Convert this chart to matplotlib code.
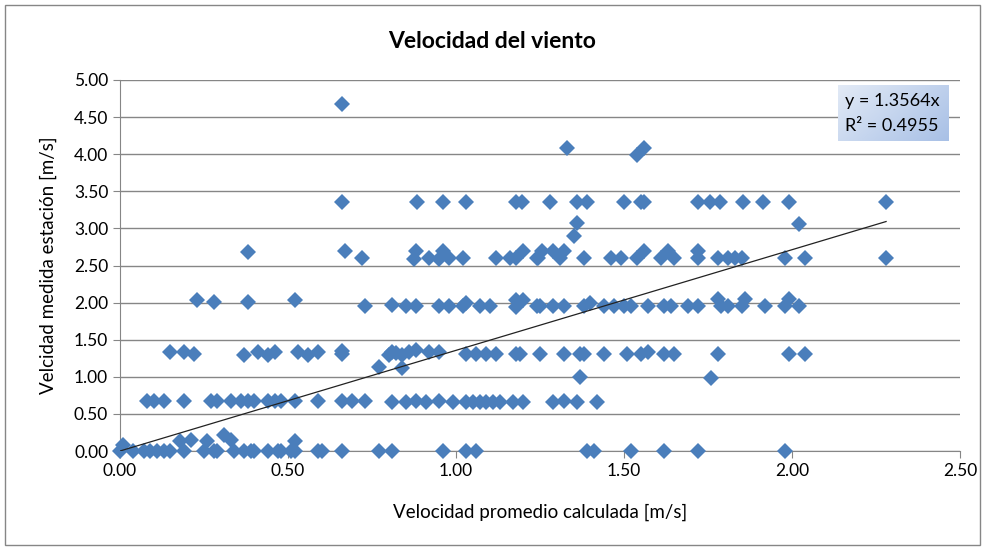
import numpy as np
import matplotlib
matplotlib.use('Agg')
import matplotlib.pyplot as plt

# datos (velocidad calculada vs medida)
fila0_x = [0.00, 0.01, 0.04, 0.07, 0.09, 0.11, 0.13, 0.15, 0.18, 0.19, 0.21, 0.25, 0.26, 0.28,
           0.29, 0.31, 0.33, 0.34, 0.37, 0.39, 0.40, 0.44, 0.47, 0.48, 0.51, 0.52, 0.52, 0.59,
           0.60, 0.66, 0.77, 0.81, 0.96, 1.03, 1.06, 1.39, 1.41, 1.52, 1.62, 1.72, 1.98]
fila0_y = [0.00, 0.08, 0.00, 0.00, 0.00, 0.00, 0.00, 0.00, 0.14, 0.00, 0.15, 0.00, 0.14, 0.00,
           0.00, 0.21, 0.15, 0.00, 0.00, 0.00, 0.00, 0.00, 0.00, 0.00, 0.00, 0.14, 0.00, 0.00,
           0.00, 0.00, 0.00, 0.00, 0.00, 0.00, 0.00, 0.00, 0.00, 0.00, 0.00, 0.00, 0.00]

fila1_x = [0.08, 0.10, 0.13, 0.19, 0.27, 0.29, 0.33, 0.36, 0.38, 0.40, 0.44, 0.46, 0.48, 0.52,
           0.59, 0.66, 0.69, 0.73, 0.81, 0.85, 0.88, 0.91, 0.95, 0.99, 1.03, 1.05, 1.07, 1.09,
           1.11, 1.13, 1.17, 1.20, 1.29, 1.32, 1.36, 1.42, 0.77, 0.84, 1.37, 1.76]
fila1_y = [0.68, 0.68, 0.68, 0.68, 0.68, 0.68, 0.68, 0.68, 0.68, 0.68, 0.67, 0.68, 0.67, 0.68,
           0.67, 0.67, 0.67, 0.68, 0.66, 0.66, 0.67, 0.66, 0.67, 0.66, 0.66, 0.66, 0.66, 0.66,
           0.66, 0.66, 0.66, 0.66, 0.66, 0.67, 0.66, 0.66, 1.13, 1.12, 1.00, 0.98]

fila2_x = [0.15, 0.19, 0.22, 0.37, 0.41, 0.44, 0.46, 0.53, 0.56, 0.59, 0.66, 0.66, 0.80, 0.81,
           0.82, 0.84, 0.86, 0.88, 0.92, 0.95, 1.03, 1.06, 1.09, 1.12, 1.18, 1.19, 1.25, 1.32,
           1.37, 1.38, 1.44, 1.51, 1.55, 1.57, 1.62, 1.65, 1.78, 1.99, 2.04]
fila2_y = [1.34, 1.34, 1.31, 1.30, 1.34, 1.29, 1.34, 1.34, 1.29, 1.34, 1.31, 1.35, 1.29, 1.34,
           1.32, 1.29, 1.34, 1.36, 1.33, 1.33, 1.31, 1.31, 1.31, 1.31, 1.31, 1.31, 1.31, 1.31,
           1.31, 1.31, 1.31, 1.31, 1.31, 1.34, 1.31, 1.31, 1.31, 1.31, 1.31]

fila3_x = [0.23, 0.28, 0.38, 0.52, 0.73, 0.81, 0.85, 0.88, 0.95, 0.98, 1.02, 1.03, 1.07, 1.10,
           1.18, 1.18, 1.20, 1.24, 1.25, 1.29, 1.32, 1.38, 1.40, 1.44, 1.47, 1.50, 1.52, 1.57,
           1.62, 1.64, 1.69, 1.72, 1.78, 1.79, 1.81, 1.85, 1.86, 1.92, 1.98, 1.99, 2.02]
fila3_y = [2.03, 2.01, 2.01, 2.04, 1.96, 1.97, 1.95, 1.95, 1.95, 1.95, 1.95, 2.00, 1.95, 1.95,
           2.04, 1.94, 2.04, 1.95, 1.95, 1.95, 1.95, 1.95, 2.00, 1.95, 1.95, 1.96, 1.95, 1.95,
           1.95, 1.95, 1.95, 1.95, 2.05, 1.95, 1.95, 1.95, 2.05, 1.95, 1.95, 2.05, 1.95]

fila4_x = [0.38, 0.67, 0.72, 0.88, 0.875, 0.92, 0.96, 0.95, 0.98, 1.02, 1.12, 1.16, 1.18, 1.20,
           1.24, 1.245, 1.255, 1.29, 1.31, 1.32, 1.38, 1.46, 1.49, 1.54, 1.56, 1.61, 1.63, 1.65,
           1.72, 1.72, 1.78, 1.81, 1.83, 1.85, 1.98, 2.04, 2.28]
fila4_y = [2.68, 2.70, 2.60, 2.70, 2.59, 2.60, 2.70, 2.59, 2.60, 2.60, 2.60, 2.60, 2.60, 2.70,
           2.60, 2.60, 2.70, 2.70, 2.60, 2.70, 2.60, 2.60, 2.60, 2.60, 2.70, 2.60, 2.70, 2.60,
           2.70, 2.60, 2.60, 2.60, 2.60, 2.60, 2.60, 2.60, 2.60]

fila5_x = [0.66, 0.885, 0.96, 1.03, 1.18, 1.195, 1.28, 1.36, 1.39, 1.50, 1.55, 1.56, 1.72,
           1.755, 1.785, 1.855, 1.915, 1.99, 2.28,
           0.66, 1.33, 1.54, 1.56, 1.36, 1.35, 2.02]
fila5_y = [3.35, 3.35, 3.35, 3.35, 3.35, 3.35, 3.35, 3.35, 3.35, 3.35, 3.35, 3.35, 3.35,
           3.35, 3.35, 3.35, 3.35, 3.35, 3.35,
           4.68, 4.08, 3.99, 4.08, 3.07, 2.90, 3.06]

pendiente = 1.3564
r2 = 0.4955

xs = np.array(fila0_x + fila1_x + fila2_x + fila3_x + fila4_x + fila5_x)
ys = np.array(fila0_y + fila1_y + fila2_y + fila3_y + fila4_y + fila5_y)
assert len(xs) == len(ys)

plt.rcParams['font.family'] = ['Lato', 'DejaVu Sans']

fig = plt.figure(figsize=(9.84, 5.48), dpi=100)
ax = fig.add_axes([120/984, 1 - 451/548, 840/984, 371/548])

gris = '#868686'
ax.set_xlim(0, 2.5)
ax.set_ylim(0, 5)
ax.set_xticks(np.arange(0, 2.51, 0.5))
ax.set_yticks(np.arange(0, 5.01, 0.5))
ax.xaxis.set_major_formatter(lambda v, p: f'{v:.2f}')
ax.yaxis.set_major_formatter(lambda v, p: f'{v:.2f}')
ax.grid(axis='y', color=gris, lw=1)
ax.set_axisbelow(True)
for s in ['top', 'right']:
    ax.spines[s].set_visible(False)
for s in ['left', 'bottom']:
    ax.spines[s].set_color(gris)
ax.tick_params(colors=gris, labelcolor='#000000', labelsize=12.5, length=5)

ax.plot(xs, ys, 'D', color='#4A7EBB', markersize=8.5, markeredgewidth=0, clip_on=False, zorder=3)

# linea de tendencia
xt = np.array([0, xs.max()])
ax.plot(xt, pendiente * xt, color='#222222', lw=0.9, zorder=4)

ax.set_xlabel('Velocidad promedio calculada [m/s]', fontsize=13.5, labelpad=18)
ax.set_ylabel('Velcidad medida estación [m/s]', fontsize=13.5, labelpad=12)
fig.text(0.5, 1 - 41/548, 'Velocidad del viento', ha='center', va='center',
         fontsize=16.5, fontweight='bold')

# etiqueta de la tendencia con degradado
bx = fig.add_axes([838/984, 1 - 141/548, 111/984, 56/548])
grad = np.linspace(0, 1, 100)[None, :] + np.linspace(0, 0.6, 40)[:, None]
bx.imshow(grad, cmap=matplotlib.colors.LinearSegmentedColormap.from_list('g', ['#e2eaf6', '#a8c0e6']),
          aspect='auto', extent=[0, 1, 0, 1])
bx.set_axis_off()
bx.text(0.06, 0.72, f'y = {pendiente}x', fontsize=13, va='center', transform=bx.transAxes)
bx.text(0.06, 0.26, f'R² = {r2}', fontsize=13, va='center', transform=bx.transAxes)

# borde del grafico
fig.patches.append(plt.Rectangle((5/984, 3/548), 975/984, 540/548, transform=fig.transFigure,
                                 fill=False, edgecolor=gris, lw=1))

fig.savefig('out.png', dpi=100)
